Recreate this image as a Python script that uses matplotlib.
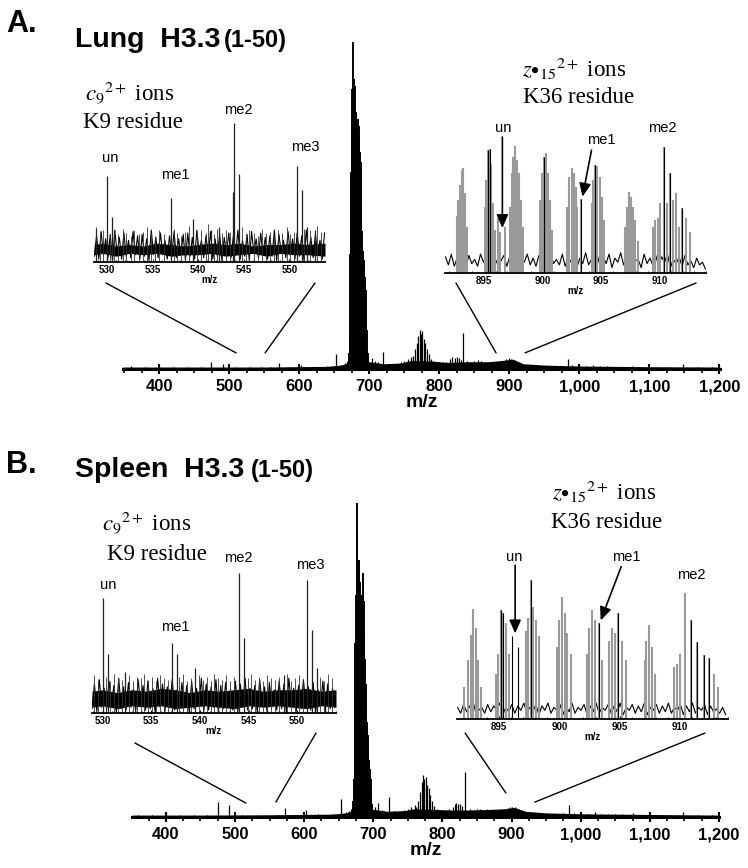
import matplotlib
matplotlib.use("Agg")
from matplotlib import pyplot as plt
from matplotlib.patches import ConnectionPatch
from matplotlib.ticker import MultipleLocator, StrMethodFormatter

plt.rcParams["font.family"] = ["Liberation Sans", "DejaVu Sans"]
plt.rcParams["mathtext.fontset"] = "stix"

W, H = 748, 868

# ===== main spectrum A (lung) =====
lung_cluster_mz = [671, 672, 673, 674, 675, 676, 677, 678, 679, 680,
                   681, 682, 683, 684, 685, 686, 687, 688, 689, 690,
                   691, 692, 693, 694, 695, 696, 697, 698]
lung_cluster_int = [5, 10, 35, 60, 75, 85, 99.4, 88, 82, 86,
                    78, 75, 72, 76, 74, 70, 66, 63, 50, 42,
                    36, 33, 31, 28, 24, 18, 12, 5]
lung_mz = [360, 380, 400, 420, 440, 460, 474, 491, 510, 530,
           545, 560, 571, 590, 603, 620, 640, 652, 660, 665,
           668, 704, 708, 712, 716, 720, 730, 735, 740, 745,
           750, 755, 760, 762, 765, 768, 770, 772, 774, 776,
           778, 780, 782, 785, 788, 792, 796, 800, 805, 810,
           816, 819, 822, 825, 828, 831, 834, 840, 845, 850,
           855, 860, 865, 870, 875, 880, 885, 890, 895, 900,
           903, 907, 912, 918, 925, 935, 945, 955, 965, 975,
           984, 990, 1000, 1010, 1020, 1030, 1040, 1050, 1060, 1075,
           1090, 1110, 1130, 1148, 1170, 1190]
lung_int = [0.8, 0.6, 1.0, 0.5, 0.6, 0.7, 2.1, 1.5, 0.5, 0.5,
            0.6, 0.5, 1.8, 0.6, 1.2, 0.7, 0.8, 4.6, 1.2, 1.8,
            2.5, 3.3, 2.5, 2.0, 1.5, 5.2, 1.5, 1.2, 1.5, 2.0,
            2.5, 3.0, 3.5, 4.0, 6.0, 8.0, 10.0, 11.9, 10.5, 11.5,
            9.0, 8.0, 6.0, 4.5, 3.0, 2.5, 2.0, 2.2, 2.0, 2.0,
            3.0, 3.6, 3.4, 3.6, 3.2, 2.8, 10.9, 2.5, 2.0, 2.5,
            2.6, 2.4, 2.2, 2.2, 2.0, 2.0, 2.2, 2.5, 3.0, 3.2,
            3.0, 2.8, 2.0, 1.5, 1.2, 1.0, 1.0, 0.9, 1.0, 0.9,
            3.0, 1.2, 0.8, 0.9, 1.2, 0.8, 0.8, 0.7, 0.7, 1.0,
            0.6, 0.6, 0.5, 1.5, 0.5, 0.5]
lung_env_mz = [348, 450, 550, 640, 660, 672, 700, 720, 745, 760, 790,
               810, 840, 870, 890, 905, 920, 950, 1000, 1100, 1201]
lung_env_int = [0.6, 0.6, 0.6, 0.8, 1.2, 2.0, 2.2, 1.6, 1.8, 2.6, 2.4,
                2.0, 2.2, 2.2, 2.6, 3.0, 1.6, 1.2, 0.9, 0.7, 0.6]

# ===== main spectrum B (spleen) =====
spleen_cluster_mz = [671, 672, 673, 674, 675, 676, 677, 678, 679, 680,
                     681, 682, 683, 684, 685, 686, 687, 688, 689, 690,
                     691, 692, 693, 694, 695, 696, 697, 698]
spleen_cluster_int = [5, 12, 37, 55, 70, 99, 90, 78, 72, 81,
                      74, 68, 64, 70, 77, 68, 58, 50, 42, 35,
                      30, 26, 22, 18, 15, 12, 8, 4]
spleen_mz = [360, 380, 400, 420, 440, 460, 475, 492, 510, 530,
             545, 560, 573, 590, 603, 620, 640, 653, 660, 665,
             668, 703, 707, 712, 716, 722, 730, 735, 740, 745,
             750, 755, 760, 762, 765, 768, 770, 772, 774, 776,
             778, 780, 782, 785, 788, 792, 796, 800, 805, 810,
             815, 818, 820, 823, 826, 829, 833, 840, 845, 850,
             855, 860, 865, 870, 875, 880, 885, 890, 895, 898,
             901, 905, 909, 915, 925, 935, 945, 955, 965, 975,
             983, 990, 1000, 1010, 1020, 1030, 1040, 1050, 1060, 1075,
             1090, 1110, 1130, 1148, 1170, 1190]
spleen_int = [0.6, 0.7, 1.7, 0.6, 0.5, 0.7, 4.8, 3.8, 0.5, 0.5,
              0.6, 0.6, 2.8, 0.7, 2.2, 0.8, 0.9, 5.7, 1.5, 2.0,
              2.5, 3.0, 4.4, 2.2, 1.8, 6.4, 1.8, 1.5, 1.8, 2.2,
              2.6, 3.2, 3.8, 3.0, 5.0, 8.0, 11.0, 13.2, 12.0, 12.5,
              10.0, 9.0, 7.0, 5.0, 3.5, 2.6, 2.2, 2.0, 2.2, 2.4,
              3.0, 4.0, 4.4, 4.2, 4.0, 3.5, 14.3, 2.4, 2.2, 2.6,
              2.4, 2.2, 2.5, 2.2, 2.0, 2.2, 2.0, 2.4, 2.8, 3.2,
              3.0, 3.1, 2.6, 1.8, 1.4, 1.2, 1.0, 1.1, 1.0, 1.2,
              3.8, 1.4, 1.0, 1.0, 1.5, 1.0, 0.9, 0.8, 0.9, 1.2,
              0.7, 0.7, 0.6, 1.5, 0.6, 0.5]
spleen_env_mz = [351, 450, 550, 640, 660, 672, 700, 720, 745, 760, 790,
                 810, 840, 870, 890, 905, 920, 950, 1000, 1100, 1200]
spleen_env_int = [0.6, 0.6, 0.7, 0.9, 1.3, 2.0, 2.4, 1.8, 2.0, 2.6, 2.4,
                  2.2, 2.2, 2.4, 2.6, 3.0, 1.8, 1.3, 1.0, 0.8, 0.6]

# ===== c9 2+ insets (K9) =====
a_c9_mz = [528.83, 530.0, 530.59, 536.96, 539.45, 541.36, 542.27,
           543.85, 543.96, 544.43, 550.88, 551.36, 551.9, 552.82]
a_c9_int = [23, 59, 31, 44, 30, 22, 24, 48, 96, 61, 66, 50, 24, 22]
a_c9_env_mz = [528.6, 529.5, 531, 532.5, 534, 535.5, 537, 538.5, 540,
               541.5, 543, 544.5, 546, 547.5, 549, 550.5, 552, 553.9]
a_c9_env_lo = [5, 6, 4, 6, 5, 6, 4, 5, 5, 6, 4, 5, 6, 4, 6, 5, 5, 4]
a_c9_env_hi = [12, 13, 11, 12, 11, 13, 12, 11, 12, 13, 12, 13, 11, 12,
               12, 13, 12, 13]
a_c9_noise_mz = [528.60, 528.85, 529.10, 529.35, 529.60, 529.85, 530.10, 530.35, 530.60, 530.85,
                 531.10, 531.35, 531.60, 531.85, 532.10, 532.35, 532.60, 532.85, 533.10, 533.35,
                 533.60, 533.85, 534.10, 534.35, 534.60, 534.85, 535.10, 535.35, 535.60, 535.85,
                 536.10, 536.35, 536.60, 536.85, 537.10, 537.35, 537.60, 537.85, 538.10, 538.35,
                 538.60, 538.85, 539.10, 539.35, 539.60, 539.85, 540.10, 540.35, 540.60, 540.85,
                 541.10, 541.35, 541.60, 541.85, 542.10, 542.35, 542.60, 542.85, 543.10, 543.35,
                 543.60, 543.85, 544.10, 544.35, 544.60, 544.85, 545.10, 545.35, 545.60, 545.85,
                 546.10, 546.35, 546.60, 546.85, 547.10, 547.35, 547.60, 547.85, 548.10, 548.35,
                 548.60, 548.85, 549.10, 549.35, 549.60, 549.85, 550.10, 550.35, 550.60, 550.85,
                 551.10, 551.35, 551.60, 551.85, 552.10, 552.35, 552.60, 552.85, 553.10, 553.35,
                 553.60, 553.85]
a_c9_noise_int = [4, 18, 2, 21, 5, 16, 3, 19, 1, 22,
                  6, 17, 2, 20, 4, 15, 3, 21, 5, 18,
                  2, 19, 4, 16, 1, 22, 5, 17, 3, 20,
                  6, 15, 2, 18, 4, 21, 3, 16, 5, 19,
                  1, 20, 4, 17, 2, 22, 6, 15, 3, 18,
                  5, 21, 2, 16, 4, 19, 1, 17, 6, 20,
                  3, 18, 5, 22, 2, 15, 4, 19, 1, 21,
                  6, 16, 3, 20, 5, 17, 2, 18, 4, 22,
                  1, 19, 6, 15, 3, 21, 5, 16, 2, 20,
                  4, 18, 1, 22, 6, 17, 3, 19, 5, 15,
                  2, 20]
a_c9_grass_mz = [528.8, 529.2, 529.6, 530.3, 530.8, 531.2, 531.7, 532.1, 532.6, 533.0,
                 533.5, 533.9, 534.4, 534.8, 535.3, 535.7, 536.2, 537.3, 537.7, 538.1,
                 538.6, 539.0, 539.9, 540.3, 540.8, 541.1, 541.7, 542.1, 542.6, 543.0,
                 543.5, 544.8, 545.2, 545.6, 546.1, 546.5, 547.0, 547.4, 547.9, 548.3,
                 548.8, 549.2, 549.7, 550.1, 550.5, 551.6, 552.3, 553.0, 553.5]
a_c9_grass_int = [24, 20, 22, 18, 21, 19, 23, 20, 18, 22,
                  19, 21, 24, 20, 18, 22, 19, 23, 20, 18,
                  21, 25, 19, 22, 20, 26, 19, 23, 20, 22,
                  21, 24, 19, 22, 20, 18, 23, 20, 21, 19,
                  22, 20, 24, 19, 21, 23, 22, 25, 21]

b_c9_mz = [530.0, 530.5, 532.3, 537.1, 537.6, 539.5, 544.0, 544.5,
           548.6, 551.0, 551.5, 552.0]
b_c9_int = [79, 41, 28, 48, 41, 31, 96.5, 52, 26, 92, 57, 31]
b_c9_env_mz = [528.9, 530, 531.5, 533, 534.5, 536, 537.5, 539, 540.5,
               542, 543.5, 545, 546.5, 548, 549.5, 551, 552.5, 554.0]
b_c9_env_lo = [4, 5, 3, 5, 4, 5, 3, 4, 5, 4, 3, 5, 4, 5, 4, 3, 5, 4]
b_c9_env_hi = [15, 16, 14, 16, 15, 17, 16, 14, 16, 15, 16, 17, 15, 16,
               16, 17, 15, 16]
b_c9_noise_mz = [528.90, 529.15, 529.40, 529.65, 529.90, 530.15, 530.40, 530.65, 530.90, 531.15,
                 531.40, 531.65, 531.90, 532.15, 532.40, 532.65, 532.90, 533.15, 533.40, 533.65,
                 533.90, 534.15, 534.40, 534.65, 534.90, 535.15, 535.40, 535.65, 535.90, 536.15,
                 536.40, 536.65, 536.90, 537.15, 537.40, 537.65, 537.90, 538.15, 538.40, 538.65,
                 538.90, 539.15, 539.40, 539.65, 539.90, 540.15, 540.40, 540.65, 540.90, 541.15,
                 541.40, 541.65, 541.90, 542.15, 542.40, 542.65, 542.90, 543.15, 543.40, 543.65,
                 543.90, 544.15, 544.40, 544.65, 544.90, 545.15, 545.40, 545.65, 545.90, 546.15,
                 546.40, 546.65, 546.90, 547.15, 547.40, 547.65, 547.90, 548.15, 548.40, 548.65,
                 548.90, 549.15, 549.40, 549.65, 549.90, 550.15, 550.40, 550.65, 550.90, 551.15,
                 551.40, 551.65, 551.90, 552.15, 552.40, 552.65, 552.90, 553.15, 553.40, 553.65,
                 553.90]
b_c9_noise_int = [3, 20, 1, 23, 4, 17, 2, 22, 5, 19,
                  0, 24, 3, 18, 2, 21, 4, 16, 1, 23,
                  5, 19, 2, 22, 3, 17, 0, 24, 4, 20,
                  1, 18, 5, 23, 2, 16, 3, 21, 4, 19,
                  0, 22, 3, 17, 5, 24, 1, 20, 2, 18,
                  4, 23, 0, 19, 3, 21, 5, 16, 2, 22,
                  1, 20, 4, 24, 2, 17, 3, 19, 0, 23,
                  5, 18, 1, 21, 4, 16, 2, 22, 3, 20,
                  0, 24, 5, 17, 1, 19, 3, 23, 4, 18,
                  2, 21, 0, 16, 5, 22, 1, 20, 3, 17,
                  4]
b_c9_grass_mz = [529.1, 529.5, 530.3, 530.8, 531.2, 531.6, 532.0, 532.7, 533.1, 533.5,
                 533.9, 534.3, 534.7, 535.1, 535.5, 535.9, 536.3, 536.7, 537.9, 538.3,
                 538.7, 539.1, 539.9, 540.3, 540.7, 541.1, 541.5, 541.9, 542.3, 542.7,
                 543.1, 543.5, 544.9, 545.3, 545.7, 546.1, 546.5, 546.9, 547.3, 547.7,
                 548.1, 549.0, 549.4, 549.8, 550.2, 550.6, 552.4, 552.8, 553.2, 553.6]
b_c9_grass_int = [26, 23, 25, 22, 27, 24, 23, 26, 22, 25,
                  24, 27, 23, 25, 22, 26, 24, 23, 25, 27,
                  22, 24, 26, 23, 25, 22, 27, 24, 23, 26,
                  22, 25, 24, 27, 23, 25, 22, 26, 24, 23,
                  25, 27, 22, 24, 26, 23, 25, 22, 27, 24]

# ===== z 15 2+ insets (K36) =====
a_z_mz = [892.66, 892.8, 892.94, 893.09, 893.23, 893.37, 893.51,
          895.06, 895.2, 895.34, 895.49, 895.63, 895.8, 895.97,
          896.2, 896.37, 896.77,
          897.23, 897.37, 897.51, 897.69, 897.86, 898.03, 898.2, 898.37,
          899.8, 899.97, 900.14, 900.31, 900.49, 900.66, 900.83,
          902.14, 902.31, 902.49, 902.66, 902.83, 903.0, 903.34,
          904.2, 904.37, 904.54, 904.71, 904.89, 905.06, 905.23,
          907.06, 907.23, 907.4, 907.57, 907.74, 907.91, 908.14,
          909.43, 909.63, 909.86, 910.09, 910.43, 910.66, 910.89, 911.14,
          911.46, 911.69, 911.91, 912.26, 912.66]
a_z_int = [42, 54, 65, 76, 78, 59, 34,
           49, 69, 91, 92, 81, 52, 32,
           41, 30, 34,
           49, 74, 86, 94, 84, 74, 54, 34,
           54, 74, 86, 89, 74, 54, 32,
           49, 71, 78, 74, 64, 49, 55,
           52, 69, 80, 79, 71, 56, 39,
           34, 49, 60, 56, 49, 39, 24,
           34, 39, 41, 52, 93, 52, 74, 54,
           59, 34, 48, 41, 30]
a_z_black_mz = [895.34, 895.49, 900.14, 903.34, 904.54, 910.43, 910.89, 911.91]
a_z_black_int = [91, 92, 86, 55, 80, 93, 74, 48]
a_z_base_mz = [891.70, 891.95, 892.20, 892.45, 892.70, 892.95, 893.20, 893.45, 893.70, 893.95,
               894.20, 894.45, 894.70, 894.95, 895.20, 895.45, 895.70, 895.95, 896.20, 896.45,
               896.70, 896.95, 897.20, 897.45, 897.70, 897.95, 898.20, 898.45, 898.70, 898.95,
               899.20, 899.45, 899.70, 899.95, 900.20, 900.45, 900.70, 900.95, 901.20, 901.45,
               901.70, 901.95, 902.20, 902.45, 902.70, 902.95, 903.20, 903.45, 903.70, 903.95,
               904.20, 904.45, 904.70, 904.95, 905.20, 905.45, 905.70, 905.95, 906.20, 906.45,
               906.70, 906.95, 907.20, 907.45, 907.70, 907.95, 908.20, 908.45, 908.70, 908.95,
               909.20, 909.45, 909.70, 909.95, 910.20, 910.45, 910.70, 910.95, 911.20, 911.45,
               911.70, 911.95, 912.20, 912.45, 912.70, 912.95, 913.20, 913.45, 913.70, 913.95]
a_z_base_int = [12, 6, 14, 5, 11, 8, 15, 4, 13, 7,
                10, 5, 14, 8, 12, 4, 15, 6, 11, 9,
                13, 5, 12, 7, 15, 4, 10, 8, 14, 6,
                11, 5, 13, 9, 12, 4, 15, 7, 10, 6,
                14, 5, 12, 8, 13, 4, 11, 7, 15, 6,
                10, 9, 13, 5, 12, 7, 14, 4, 11, 8,
                15, 6, 12, 5, 13, 9, 10, 4, 14, 7,
                11, 6, 13, 5, 12, 8, 14, 4, 10, 7,
                12, 5, 13, 6, 9, 4, 11, 6, 8, 3]

b_z_mz = [892.04, 892.38, 892.65, 892.85, 893.07, 893.26, 893.48,
          894.72, 894.92, 895.14, 895.36, 895.58, 895.8,
          897.21, 897.4, 897.62, 897.84, 898.07, 898.29,
          899.78, 900.0, 900.22, 900.44, 900.66, 900.94,
          902.26, 902.48, 902.73, 902.98, 903.31, 903.53,
          904.11, 904.33, 904.58, 904.86, 905.22, 905.5,
          907.07, 907.23, 907.45, 907.68, 907.9,
          909.5, 909.77, 910.05, 910.47, 910.93, 911.43, 911.98, 912.4, 912.8, 913.2]
b_z_int = [22, 41, 58, 76, 63, 41, 22,
           31, 45, 75, 73, 66, 45,
           61, 70, 96, 77, 68, 57,
           50, 68, 84, 73, 59, 45,
           45, 63, 75, 68, 66, 41,
           54, 63, 59, 73, 54, 41,
           41, 54, 65, 50, 31,
           36, 38, 45, 87, 68, 53, 44, 42, 31, 22]
b_z_black_mz = [895.14, 895.36, 896.1, 896.6, 897.62, 903.31, 904.86,
                910.93, 911.43, 911.98, 912.4]
b_z_black_int = [75, 73, 57, 50, 96, 66, 73, 68, 53, 44, 42]
b_z_base_mz = [891.55, 891.80, 892.05, 892.30, 892.55, 892.80, 893.05, 893.30, 893.55, 893.80,
               894.05, 894.30, 894.55, 894.80, 895.05, 895.30, 895.55, 895.80, 896.05, 896.30,
               896.55, 896.80, 897.05, 897.30, 897.55, 897.80, 898.05, 898.30, 898.55, 898.80,
               899.05, 899.30, 899.55, 899.80, 900.05, 900.30, 900.55, 900.80, 901.05, 901.30,
               901.55, 901.80, 902.05, 902.30, 902.55, 902.80, 903.05, 903.30, 903.55, 903.80,
               904.05, 904.30, 904.55, 904.80, 905.05, 905.30, 905.55, 905.80, 906.05, 906.30,
               906.55, 906.80, 907.05, 907.30, 907.55, 907.80, 908.05, 908.30, 908.55, 908.80,
               909.05, 909.30, 909.55, 909.80, 910.05, 910.30, 910.55, 910.80, 911.05, 911.30,
               911.55, 911.80, 912.05, 912.30, 912.55, 912.80, 913.05, 913.30, 913.55, 913.80]
b_z_base_int = [8, 4, 10, 5, 9, 3, 11, 6, 8, 4,
                10, 5, 9, 6, 11, 3, 8, 5, 10, 4,
                9, 6, 11, 4, 8, 5, 10, 3, 9, 6,
                11, 4, 8, 6, 10, 3, 9, 5, 11, 4,
                8, 6, 10, 3, 9, 5, 11, 4, 8, 6,
                10, 4, 9, 5, 11, 3, 8, 6, 10, 4,
                9, 5, 11, 3, 8, 6, 10, 4, 9, 5,
                11, 4, 8, 6, 10, 3, 9, 5, 11, 4,
                8, 6, 10, 3, 9, 5, 7, 4, 8, 3]


def box(left, right, top, bottom):
    return [left / W, 1 - bottom / H, (right - left) / W, (bottom - top) / H]


def ftext(x, y, s, **kw):
    fig.text(x / W, 1 - y / H, s, **kw)


def style_axis(ax, xlim, major, minor, lw, mz_size):
    ax.set_xlim(xlim)
    ax.set_ylim(0, 100)
    for s in ["top", "left", "right"]:
        ax.spines[s].set_visible(False)
    ax.spines["bottom"].set_linewidth(lw)
    ax.set_yticks([])
    ax.patch.set_visible(False)
    ax.xaxis.set_major_locator(MultipleLocator(major))
    ax.xaxis.set_minor_locator(MultipleLocator(minor))
    ax.xaxis.set_major_formatter(StrMethodFormatter("{x:,.0f}"))
    for lab in ax.get_xticklabels():
        lab.set_fontweight("bold")
    ax.set_xlabel("m/z", fontsize=mz_size, fontweight="bold", labelpad=0)


def small_ticks(ax):
    ax.tick_params(axis="x", which="major", direction="in", length=2.5,
                   width=0.8, labelsize=7, pad=2)
    ax.tick_params(axis="x", which="minor", direction="in", length=1.2, width=0.6)


def draw_main(ax, mz, inten, cmz, cint, emz, eint, xlim):
    ax.fill_between(emz, 0, eint, color="black", lw=0)
    ax.vlines(mz, 0, inten, color="black", lw=0.9)
    ax.vlines(cmz, 0, cint, color="black", lw=1.4)
    style_axis(ax, xlim, 100, 25, 2.2, 14)
    ax.tick_params(axis="x", which="major", direction="inout", length=7,
                   width=1.5, labelsize=12, pad=4)
    ax.tick_params(axis="x", which="minor", direction="out", length=3, width=1.2)


def draw_c9(ax, mz, inten, emz, elo, ehi, nmz, nint, gmz, gint, xlim):
    ax.fill_between(emz, elo, ehi, color="black", lw=0)
    ax.plot(nmz, nint, color="black", lw=0.8)
    ax.vlines(gmz, 0, gint, color="#333333", lw=0.6)
    ax.vlines(mz, 0, inten, color="#222222", lw=0.9)
    style_axis(ax, xlim, 5, 1, 1.3, 7)
    small_ticks(ax)


def draw_z(ax, mz, inten, bmz, bint, smz, sint, xlim):
    ax.plot(smz, sint, color="black", lw=0.8)
    ax.vlines(mz, 0, inten, color="#9a9a9a", lw=1.5)
    ax.vlines(bmz, 0, bint, color="black", lw=0.8)
    style_axis(ax, xlim, 5, 1, 1.3, 7)
    small_ticks(ax)


def arrow(ax, tail, head):
    ax.annotate("", xy=head, xytext=tail, annotation_clip=False,
                arrowprops=dict(arrowstyle="-|>,head_length=0.8,head_width=0.35",
                                color="black", lw=1.2, shrinkA=0, shrinkB=0,
                                clip_on=False))


def zoom_line(inset, frac, main, point):
    con = ConnectionPatch(xyA=frac, coordsA=inset.transAxes, xyB=point,
                          coordsB=main.transData, color="black", lw=1.0)
    fig.add_artist(con)


fig = plt.figure(figsize=(W / 100, H / 100), dpi=100)

# ---------- panel A ----------
ax_a = fig.add_axes(box(123, 720, 40, 369))
draw_main(ax_a, lung_mz, lung_int, lung_cluster_mz, lung_cluster_int,
          lung_env_mz, lung_env_int, (348.5, 1201))

ax_a1 = fig.add_axes(box(94, 325, 117, 262))
draw_c9(ax_a1, a_c9_mz, a_c9_int, a_c9_env_mz, a_c9_env_lo, a_c9_env_hi,
        a_c9_noise_mz, a_c9_noise_int, a_c9_grass_mz, a_c9_grass_int,
        (528.57, 553.9))

ax_a2 = fig.add_axes(box(445, 706, 138, 273))
draw_z(ax_a2, a_z_mz, a_z_int, a_z_black_mz, a_z_black_int,
       a_z_base_mz, a_z_base_int, (891.66, 914.0))
arrow(ax_a2, (896.57, 100.7), (896.57, 33.3))
arrow(ax_a2, (904.2, 91), (903.43, 56.5))

zoom_line(ax_a1, (0.052, -0.145), ax_a, (510, 4.9))
zoom_line(ax_a1, (0.957, -0.145), ax_a, (551.4, 4.9))
zoom_line(ax_a2, (0.042, -0.074), ax_a, (881.2, 4.9))
zoom_line(ax_a2, (0.962, -0.074), ax_a, (922.6, 4.9))

ftext(6, 32, "A.", fontsize=22, fontweight="bold", va="baseline")
ftext(75, 47, "Lung  H3.3", fontsize=20.5, fontweight="bold", va="baseline")
ftext(224, 47, "(1-50)", fontsize=17, fontweight="bold", va="baseline")
ftext(130, 100, r"$c_9{}^{2+}$ ions", fontsize=16.5, family="Liberation Serif",
      ha="center", va="baseline")
ftext(133, 128, "K9 residue", fontsize=16.5, family="Liberation Serif",
      ha="center", va="baseline")
ftext(574, 77, r"$z{\bullet}_{15}{}^{2+}$ ions", fontsize=16.5,
      family="Liberation Serif", ha="center", va="baseline")
ftext(579, 103, "K36 residue", fontsize=16.5, family="Liberation Serif",
      ha="center", va="baseline")
for x, y, s in [(110, 158, "un"), (175, 175, "me1"), (238, 110, "me2"),
                (305, 147, "me3"), (503, 128, "un"), (601, 140, "me1"),
                (662, 128, "me2")]:
    ftext(x, y, s, fontsize=10.5, ha="center", va="center")

# ---------- panel B ----------
ax_b = fig.add_axes(box(132, 719, 500, 817))
draw_main(ax_b, spleen_mz, spleen_int, spleen_cluster_mz, spleen_cluster_int,
          spleen_env_mz, spleen_env_int, (351, 1200))

ax_b1 = fig.add_axes(box(92, 336, 568, 713))
draw_c9(ax_b1, b_c9_mz, b_c9_int, b_c9_env_mz, b_c9_env_lo, b_c9_env_hi,
        b_c9_noise_mz, b_c9_noise_int, b_c9_grass_mz, b_c9_grass_int,
        (528.9, 554.0))

ax_b2 = fig.add_axes(box(457, 728, 574, 719))
draw_z(ax_b2, b_z_mz, b_z_int, b_z_black_mz, b_z_black_int,
       b_z_base_mz, b_z_base_int, (891.5, 914.0))
arrow(ax_b2, (896.33, 106), (896.33, 59))
arrow(ax_b2, (905.13, 105), (903.43, 68))

zoom_line(ax_b1, (0.176, -0.207), ax_b, (515.7, 4.4))
zoom_line(ax_b1, (0.918, -0.138), ax_b, (559.1, 4.7))
zoom_line(ax_b2, (0.030, -0.097), ax_b, (891.7, 7.6))
zoom_line(ax_b2, (0.915, -0.097), ax_b, (933.7, 4.7))

ftext(6, 473, "B.", fontsize=22, fontweight="bold", va="baseline")
ftext(75, 477, "Spleen  H3.3", fontsize=20.5, fontweight="bold", va="baseline")
ftext(251, 477, "(1-50)", fontsize=17, fontweight="bold", va="baseline")
ftext(147, 530, r"$c_9{}^{2+}$ ions", fontsize=16.5, family="Liberation Serif",
      ha="center", va="baseline")
ftext(157, 560, "K9 residue", fontsize=16.5, family="Liberation Serif",
      ha="center", va="baseline")
ftext(604, 500, r"$z{\bullet}_{15}{}^{2+}$ ions", fontsize=16.5,
      family="Liberation Serif", ha="center", va="baseline")
ftext(607, 528, "K36 residue", fontsize=16.5, family="Liberation Serif",
      ha="center", va="baseline")
for x, y, s in [(108, 585, "un"), (175, 627, "me1"), (238, 558, "me2"),
                (310, 565, "me3"), (514, 557, "un"), (626, 557, "me1"),
                (691, 575, "me2")]:
    ftext(x, y, s, fontsize=10.5, ha="center", va="center")

fig.savefig("out.png", dpi=100)
